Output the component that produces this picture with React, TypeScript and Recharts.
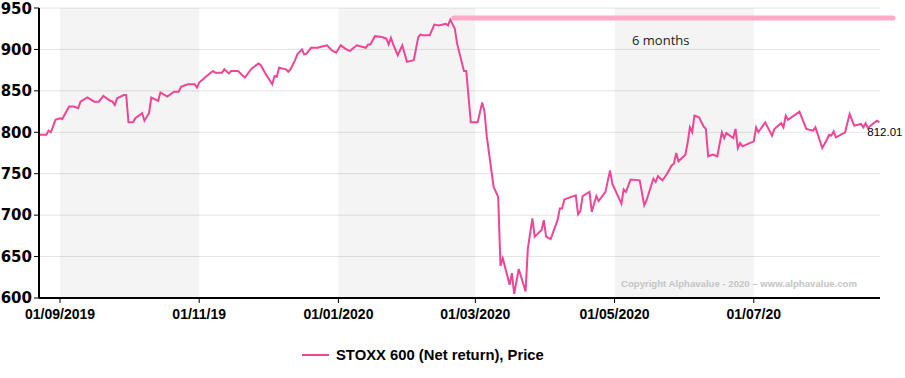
import React from "react";
import {
  LineChart,
  Line,
  XAxis,
  YAxis,
  CartesianGrid,
  ReferenceArea,
  ReferenceLine,
  LabelList,
} from "recharts";

// days counted from 01/09/2019
const days = [
  -9, -6, -5, -4, -2, 0, 1, 4, 6, 8, 9, 12, 15, 17, 19, 22, 23, 24, 25, 28, 29, 30, 32, 33, 36, 37, 39, 40,
  43, 44, 47, 50, 52, 53, 56, 59, 60, 61, 63, 67, 68, 71, 72, 74, 75, 78, 81, 84, 87, 88, 90, 93, 94, 95,
  96, 99, 100, 101, 103, 104, 106, 107, 108, 110, 113, 114, 117, 119, 121, 123, 125, 127, 130, 134, 135,
  136, 138, 141, 143, 144, 145, 146, 148, 150, 152, 155, 157, 158, 159, 162, 164, 166, 169, 170, 171, 173,
  174, 177, 178, 180, 183, 185, 186, 187, 190, 192, 193, 194, 197, 198, 199, 201, 204, 205, 207, 208, 211,
  212, 213, 215, 218, 219, 220, 221, 226, 227, 228, 229, 232, 233, 235, 236, 239, 241, 242, 246, 247, 248,
  250, 254, 256, 257, 260, 261, 262, 264, 266, 268, 269, 270, 271, 274, 275, 276, 277, 278, 280, 282, 283,
  284, 286, 288, 290, 291, 292, 294, 295, 296, 297, 298, 299, 304, 305, 306, 309, 312, 313, 316, 317, 318,
  319, 324, 325, 327, 330, 331, 334, 336, 337, 338, 339, 340, 344, 346, 348, 351, 352, 353, 354, 356, 358,
  359,
];

const prices = [
  797, 797, 802, 800, 815, 817, 816, 831, 831, 829, 837, 842, 837, 837, 844, 838, 837, 833, 841, 845, 845,
  812, 812, 817, 823, 814, 823, 842, 838, 848, 843, 849, 849, 855, 858, 858, 854, 860, 865, 874, 872, 872,
  876, 871, 874, 874, 866, 877, 883, 881, 871, 858, 868, 867, 878, 876, 873, 876, 887, 894, 900, 894, 895,
  902, 902, 903, 905, 899, 896, 905, 901, 898, 905, 902, 906, 906, 916, 915, 913, 906, 914, 906, 893, 905,
  885, 887, 915, 918, 917, 917, 930, 929, 931, 929, 936, 925, 907, 874, 874, 812, 812, 836, 825, 795, 734,
  722, 639, 648, 616, 630, 605, 635, 608, 660, 696, 674, 682, 694, 674, 671, 694, 708, 708, 719, 724, 701,
  705, 723, 728, 704, 723, 717, 728, 754, 738, 714, 731, 728, 743, 742, 712, 718, 744, 740, 747, 742, 750,
  760, 762, 775, 765, 773, 787, 806, 800, 820, 818, 807, 804, 771, 773, 771, 800, 793, 799, 795, 793, 804,
  781, 787, 783, 789, 806, 800, 812, 796, 804, 811, 806, 820, 815, 825, 818, 804, 802, 806, 781, 791, 797,
  796, 801, 794, 800, 822, 808, 810, 806, 811, 805, 810, 814, 812.01,
];

const xTicks = [0, 61, 122, 182, 243, 304];
const xTickLabels = ["01/09/2019", "01/11/19", "01/01/2020", "01/03/2020", "01/05/2020", "01/07/20"];
const yTicks = [600, 650, 700, 750, 800, 850, 900, 950];
const shadedMonths = [
  [0, 61],
  [122, 182],
  [243, 304],
];

const data = days.map((d, i) => ({ day: d, price: prices[i] }));
const lastIndex = data.length - 1;
const PINK = "#ee4596";

export default function App() {
  return (
    <div style={{ position: "absolute", left: 0, top: 0, width: 905, height: 378, background: "#fff", fontFamily: "'Liberation Sans', Arial, sans-serif" }}>
      <LineChart width={905} height={378} data={data} margin={{ top: 8, right: 25, left: 0, bottom: 50 }}>
        <CartesianGrid stroke="#e4e4e4" vertical={false} />
        {shadedMonths.map(([a, b]) => (
          <ReferenceArea key={a} x1={a} x2={b} y1={600} y2={950} fill="#000" fillOpacity={0.045} stroke="none" />
        ))}
        <XAxis
          dataKey="day"
          type="number"
          domain={[-9.2, 359.3]}
          ticks={xTicks}
          tickFormatter={(v: number) => xTickLabels[xTicks.indexOf(v)]}
          height={30}
          tickSize={5}
          tickMargin={6}
          tick={{ fontSize: 14, fontWeight: "bold", fill: "#000", fontFamily: "'Liberation Sans', Arial" }}
          axisLine={{ stroke: "#000", strokeWidth: 2 }}
          tickLine={{ stroke: "#000" }}
        />
        <YAxis
          domain={[600, 950]}
          ticks={yTicks}
          width={39}
          tickSize={5}
          tick={{ fontSize: 15, fontWeight: "bold", fill: "#000", fontFamily: "'DejaVu Sans', sans-serif" }}
          axisLine={{ stroke: "#000", strokeWidth: 2 }}
          tickLine={{ stroke: "#000" }}
        />
        <ReferenceLine
          segment={[
            { x: 172.6, y: 938 },
            { x: 365, y: 938 },
          ]}
          ifOverflow="visible"
          stroke="#ffaac8"
          strokeWidth={5}
          strokeLinecap="round"
        />
        <Line
          dataKey="price"
          type="linear"
          stroke={PINK}
          strokeWidth={2}
          dot={false}
          isAnimationActive={false}
        >
          <LabelList
            dataKey="price"
            content={(p: any) =>
              p.index === lastIndex ? (
                <text x={p.x - 12} y={p.y + 14} fontSize={11.5} fill="#000" fontFamily="'Liberation Sans', Arial">
                  812.01
                </text>
              ) : null
            }
          />
        </Line>
      </LineChart>
      <div style={{ position: "absolute", left: 632, top: 31, fontFamily: "'Open Sans', sans-serif", fontSize: 13, color: "#222", whiteSpace: "nowrap" }}>
        6 months
      </div>
      <div style={{ position: "absolute", right: 48, top: 278, fontSize: 9.6, fontWeight: "bold", color: "#c4c4c4", whiteSpace: "nowrap" }}>
        Copyright Alphavalue - 2020 – www.alphavalue.com
      </div>
      <div style={{ position: "absolute", left: 302, top: 347, display: "flex", alignItems: "center", whiteSpace: "nowrap" }}>
        <span style={{ display: "inline-block", width: 27, height: 2, background: PINK, marginRight: 7 }} />
        <span style={{ fontSize: 14.8, fontWeight: "bold", color: "#000" }}>STOXX 600 (Net return), Price</span>
      </div>
    </div>
  );
}
